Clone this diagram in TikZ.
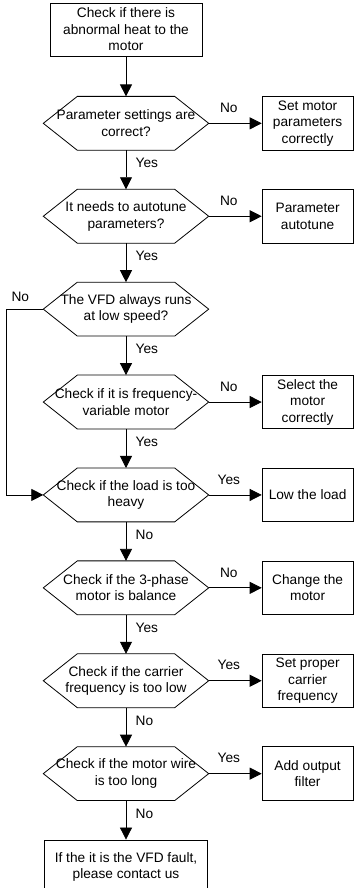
\documentclass[tikz,border=0pt]{standalone}
\usepackage{fontspec}
\setmainfont{Liberation Sans}
\usepackage{xcolor}
\usetikzlibrary{arrows.meta, positioning}

\begin{document}
\begin{tikzpicture}[
    x=1pt, y=1pt,
    node distance=39pt,
    textfont/.style={font=\fontsize{13.7}{16.5}\selectfont},
    process/.style={rectangle, draw, line width=0.8pt, textfont, align=center, inner sep=0pt, minimum height=53.5pt},
    decision/.style={rectangle, textfont, align=center, inner sep=0pt, minimum width=165pt, minimum height=53.5pt},
    action/.style={process, minimum width=91pt},
    arrow/.style={-{Triangle[length=12pt, width=12pt]}, line width=0.8pt},
    lbl/.style={textfont, inner sep=3.3pt}
]
    \useasboundingbox (0,0) rectangle (355,888);

    \node[process, minimum width=152pt, minimum height=53pt] (heat) at (126,858.5) {Check if there is\\abnormal heat to the\\motor};
    \node[decision, below=40pt of heat] (param) {Parameter settings are\\correct?};
    \node[decision, below=of param] (tune) {It needs to autotune\\parameters?};
    \node[decision, below=of tune] (speed) {The VFD always runs\\at low speed?};
    \node[decision, below=of speed] (vfmotor) {Check if it is frequency-\\variable motor};
    \node[decision, below=of vfmotor] (load) {Check if the load is too\\heavy};
    \node[decision, below=of load] (phase) {Check if the 3-phase\\motor is balance};
    \node[decision, below=of phase] (carrier) {Check if the carrier\\frequency is too low};
    \node[decision, below=of carrier] (wire) {Check if the motor wire\\is too long};
    \node[process, minimum width=163pt, below=of wire] (fault) {If the it is the VFD fault,\\please contact us};

    \node[action, right=53pt of param] (setparam) {Set motor\\parameters\\correctly};
    \node[action, right=53pt of tune] (autotune) {Parameter\\autotune};
    \node[action, right=53pt of vfmotor] (select) {Select the\\motor\\correctly};
    \node[action, right=53pt of load] (lowload) {Low the load};
    \node[action, right=53pt of phase] (change) {Change the\\motor};
    \node[action, right=53pt of carrier] (setcarrier) {Set proper\\carrier\\frequency};
    \node[action, right=53pt of wire] (filter) {Add output\\filter};

    % hexagon outlines
    \foreach \n in {param, tune, speed, vfmotor, load, phase, carrier, wire}
        \draw[line width=0.8pt] (\n.west) -- ([xshift=34pt]\n.north west) -- ([xshift=-34pt]\n.north east)
            -- (\n.east) -- ([xshift=-34pt]\n.south east) -- ([xshift=34pt]\n.south west) -- cycle;

    \draw[arrow] (heat) -- (param);
    \draw[arrow] (param) -- node[lbl, right=6pt, pos=0.33]{Yes} (tune);
    \draw[arrow] (tune) -- node[lbl, right=6pt, pos=0.33]{Yes} (speed);
    \draw[arrow] (speed) -- node[lbl, right=6pt, pos=0.33]{Yes} (vfmotor);
    \draw[arrow] (vfmotor) -- node[lbl, right=6pt, pos=0.33]{Yes} (load);
    \draw[arrow] (load) -- node[lbl, right=6pt, pos=0.33]{No} (phase);
    \draw[arrow] (phase) -- node[lbl, right=6pt, pos=0.33]{Yes} (carrier);
    \draw[arrow] (carrier) -- node[lbl, right=6pt, pos=0.33]{No} (wire);
    \draw[arrow] (wire) -- node[lbl, right=6pt, pos=0.33]{No} (fault);

    \draw[arrow] (param.east) -- node[lbl, above=7pt, pos=0.38]{No} (setparam);
    \draw[arrow] (tune.east) -- node[lbl, above=7pt, pos=0.38]{No} (autotune);
    \draw[arrow] (vfmotor.east) -- node[lbl, above=7pt, pos=0.38]{No} (select);
    \draw[arrow] (load.east) -- node[lbl, above=7pt, pos=0.38]{Yes} (lowload);
    \draw[arrow] (phase.east) -- node[lbl, above=7pt, pos=0.38]{No} (change);
    \draw[arrow] (carrier.east) -- node[lbl, above=7pt, pos=0.38]{Yes} (setcarrier);
    \draw[arrow] (wire.east) -- node[lbl, above=7pt, pos=0.38]{Yes} (filter);

    \draw[arrow] (speed.west) -- node[lbl, above=4pt, pos=0.62]{No} ([xshift=-37pt]speed.west) |- (load.west);
\end{tikzpicture}
\end{document}
